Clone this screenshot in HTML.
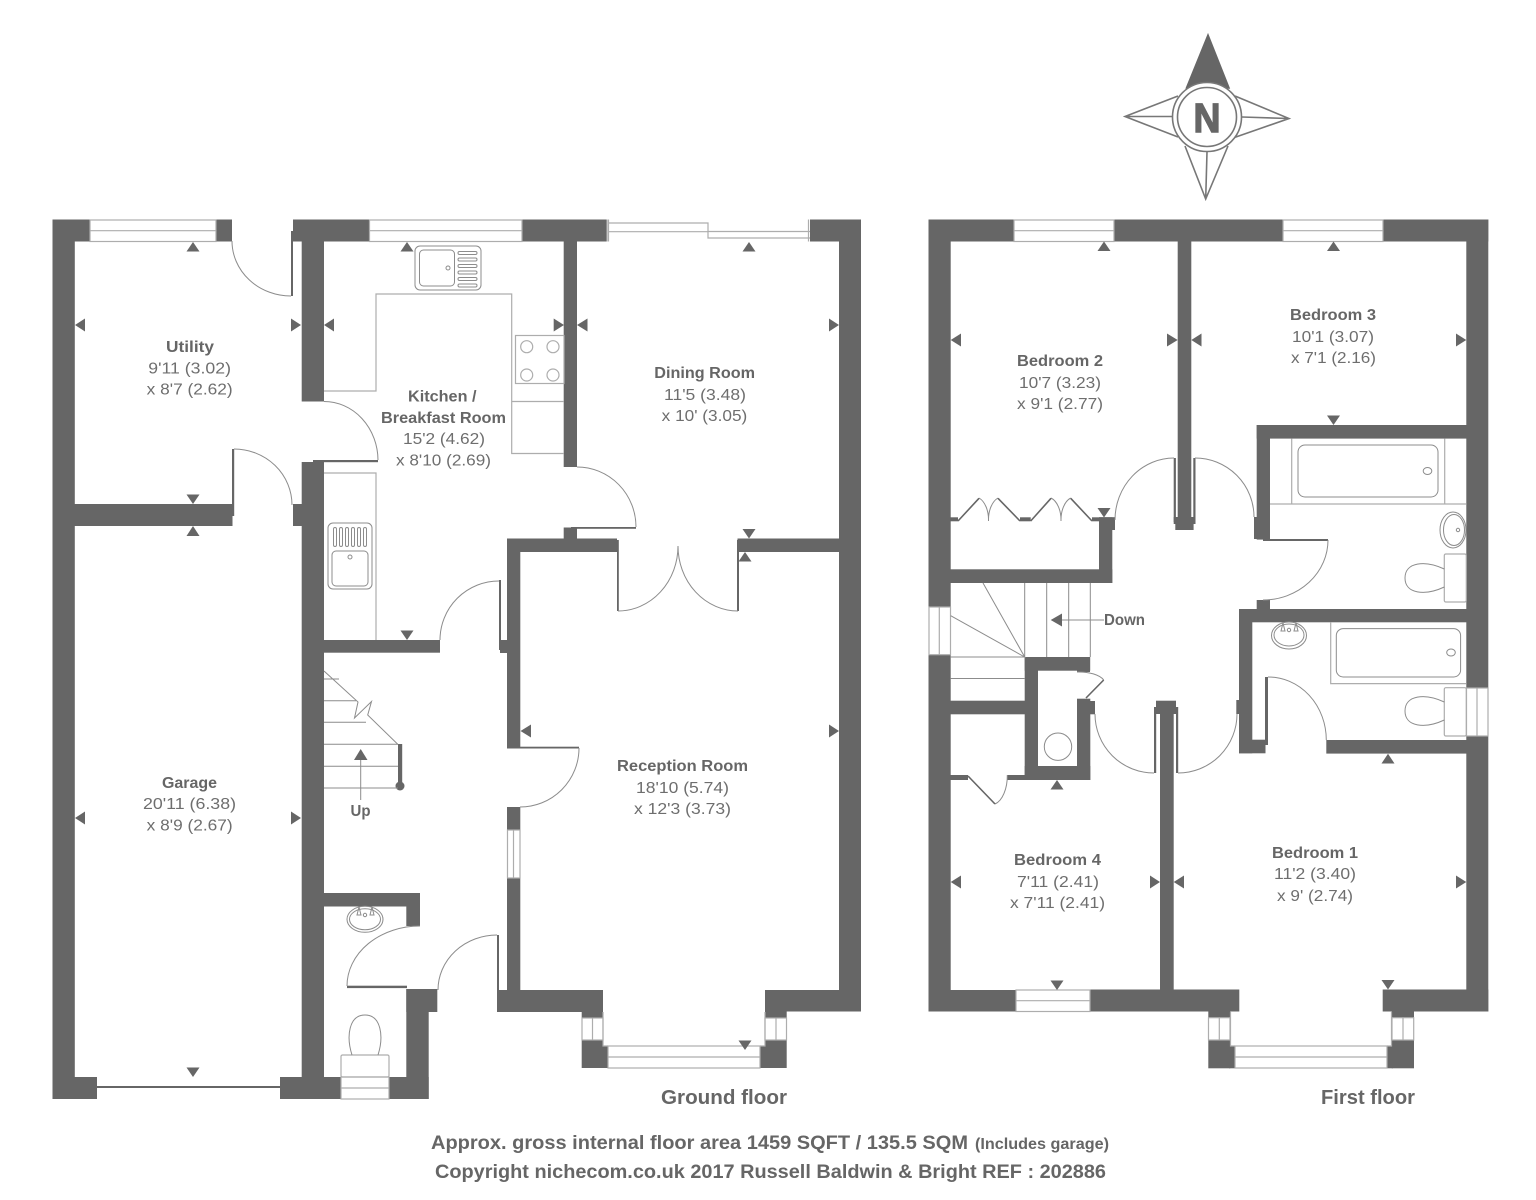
<!DOCTYPE html>
<html><head><meta charset="utf-8"><title>Floor plan</title>
<style>
html,body{margin:0;padding:0;background:#fff;width:1536px;height:1200px;overflow:hidden}
svg{display:block}
text{font-family:"Liberation Sans",sans-serif;fill:#6e6e6e;font-size:16px}
text.b{font-weight:bold;fill:#666}
.w rect{fill:#666}
.t polygon{fill:#666}
.l *{fill:none;stroke:#adadad;stroke-width:1.2}
.a *{fill:none;stroke:#8c8c8c;stroke-width:1}
.d *{fill:none;stroke:#666;stroke-width:1.6}
</style></head><body>
<svg xmlns="http://www.w3.org/2000/svg" width="1536" height="1200" viewBox="0 0 1536 1200">
<rect width="1536" height="1200" fill="#fff"/>

<!-- compass -->
<g fill="none" stroke="#777" stroke-width="1.6">
<polygon points="1208,35 1186.5,88 1229,88" fill="#666" stroke="#666"/>
<path d="M1178,96L1125,116.5L1178,137M1125,116.5H1172"/>
<path d="M1235,96L1289,118.5L1233,138M1289,118.5L1242,117"/>
<path d="M1185,146L1205.7,199L1228,146M1205.7,199L1207,152"/>
<circle cx="1207" cy="117" r="34.5" fill="#fff"/>
<circle cx="1207" cy="117" r="29.5"/>
</g>
<text class="b" x="1193.5" y="132" style="font-size:41px;stroke:#666;stroke-width:1.4" textLength="27" lengthAdjust="spacingAndGlyphs">N</text>

<!-- ground floor walls -->
<g class="w">
<rect x="52.5" y="219.5" width="22.3" height="879.5"/>
<rect x="52.5" y="219.5" width="37.5" height="22"/>
<rect x="216" y="219.5" width="16" height="22"/>
<rect x="293" y="219.5" width="76.5" height="22"/>
<rect x="291" y="231" width="2" height="65"/>
<rect x="301.7" y="219.5" width="22.3" height="182"/>
<rect x="301.7" y="462" width="22.3" height="637"/>
<rect x="313" y="460" width="65" height="2.2"/>
<rect x="74" y="504" width="158.5" height="22"/>
<rect x="232" y="449" width="2.2" height="67"/>
<rect x="293" y="504" width="9.5" height="22"/>
<rect x="323" y="640" width="117" height="12.7"/>
<rect x="522" y="219.5" width="84.7" height="22"/>
<rect x="563.7" y="241" width="13.3" height="226"/>
<rect x="563.7" y="527.5" width="13.3" height="12"/>
<rect x="571" y="527" width="65" height="1.8"/>
<rect x="507" y="538.5" width="110" height="13.5"/>
<rect x="617" y="540" width="1.8" height="71"/>
<rect x="737" y="540" width="2" height="71"/>
<rect x="737.5" y="538.5" width="103" height="13.5"/>
<rect x="810" y="219.5" width="51" height="22"/>
<rect x="839" y="219.5" width="22" height="792"/>
<rect x="507" y="538.5" width="13.3" height="209"/>
<rect x="499" y="580" width="2" height="70"/>
<rect x="500" y="640" width="8" height="13"/>
<rect x="507" y="746.7" width="72" height="1.8"/>
<rect x="507" y="807" width="13.3" height="23"/>
<rect x="507" y="878" width="13.3" height="113"/>
<rect x="497" y="935" width="2" height="64"/>
<rect x="497" y="990" width="106" height="22"/>
<rect x="581.7" y="1011" width="21.3" height="7"/>
<rect x="581.7" y="1040" width="21.3" height="28"/>
<rect x="602" y="1046" width="6" height="22"/>
<rect x="760" y="1046" width="6" height="22"/>
<rect x="765" y="1040" width="21.7" height="28"/>
<rect x="765" y="990" width="21.7" height="28"/>
<rect x="785" y="990" width="76" height="21.5"/>
<rect x="52.5" y="1077" width="44.5" height="22"/>
<rect x="97" y="1086" width="183" height="2"/>
<rect x="280" y="1077" width="61" height="22"/>
<rect x="389.3" y="1077" width="39.4" height="22"/>
<rect x="406.3" y="989" width="22.4" height="110"/>
<rect x="406.3" y="989" width="31" height="23"/>
<rect x="323" y="893" width="97" height="13.5"/>
<rect x="406.3" y="893" width="13.7" height="33"/>
<rect x="347" y="985.7" width="60" height="2.4"/>
<rect x="398" y="744" width="4.2" height="42"/>
</g>
<circle cx="400" cy="786" r="4.5" fill="#666"/>

<!-- first floor walls -->
<g class="w">
<rect x="928.5" y="219.5" width="22.2" height="387.5"/>
<rect x="928.5" y="654.7" width="22.2" height="356.8"/>
<rect x="928.5" y="219.5" width="85.5" height="22"/>
<rect x="1114" y="219.5" width="169" height="22"/>
<rect x="1383" y="219.5" width="105.3" height="22"/>
<rect x="1466.3" y="219.5" width="22" height="468.5"/>
<rect x="1466.3" y="736" width="22" height="275.5"/>
<rect x="1177.7" y="241" width="13.6" height="280"/>
<rect x="1173.7" y="458" width="2.2" height="64"/>
<rect x="1193.3" y="458" width="2.2" height="64"/>
<rect x="1173.7" y="517" width="21.8" height="7"/>
<rect x="1175.3" y="520" width="18.3" height="10"/>
<rect x="1256.7" y="425" width="210" height="13.6"/>
<rect x="1256.7" y="425" width="13.3" height="114.6"/>
<rect x="1254" y="517" width="3" height="22"/>
<rect x="1263" y="539" width="65" height="2"/>
<rect x="1256.7" y="600" width="13.3" height="10"/>
<rect x="1239" y="609" width="228" height="13.3"/>
<rect x="1239" y="609" width="13.3" height="144.3"/>
<rect x="1236.3" y="700" width="3" height="14"/>
<rect x="1239" y="739.7" width="26.5" height="13.6"/>
<rect x="1265" y="677" width="3" height="68"/>
<rect x="1326.3" y="740" width="140.5" height="13.6"/>
<rect x="950" y="517.3" width="8" height="4"/>
<rect x="1020" y="517.3" width="10.7" height="4"/>
<rect x="1092" y="517.3" width="23" height="4"/>
<rect x="1099" y="517.3" width="16" height="12.7"/>
<rect x="1099" y="517.3" width="13.3" height="65.7"/>
<rect x="950" y="569.3" width="162.3" height="13.7"/>
<rect x="1024.7" y="657" width="65.5" height="13.7"/>
<rect x="1077" y="657" width="13" height="15"/>
<rect x="1024.7" y="657" width="13.3" height="123"/>
<rect x="1077" y="698.7" width="13.3" height="81.3"/>
<rect x="1024.7" y="766" width="65.6" height="14"/>
<rect x="1090" y="701" width="5" height="13.3"/>
<rect x="950" y="700.7" width="75" height="13.6"/>
<rect x="950" y="775" width="18" height="5"/>
<rect x="1007" y="775" width="18" height="5"/>
<rect x="1160" y="706" width="13.7" height="285"/>
<rect x="1156" y="700.7" width="20" height="8"/>
<rect x="1154" y="707" width="2.2" height="66"/>
<rect x="1176" y="707" width="2.2" height="66"/>
<rect x="1154" y="707" width="24" height="7"/>
<rect x="928.5" y="990" width="87.5" height="21.5"/>
<rect x="1090" y="989.5" width="149.3" height="22"/>
<rect x="1208.3" y="1011" width="22" height="6.7"/>
<rect x="1208.3" y="1040" width="22" height="28.3"/>
<rect x="1229" y="1046" width="6" height="22.3"/>
<rect x="1387" y="1046" width="6" height="22.3"/>
<rect x="1391.7" y="1040" width="22.3" height="28.3"/>
<rect x="1391.7" y="1011" width="22.3" height="6.7"/>
<rect x="1382.7" y="989.5" width="105.6" height="22"/>
</g>

<!-- windows -->
<g class="l">
<rect x="90" y="220" width="126" height="21.5"/><path d="M90,230.7H216"/>
<rect x="369.5" y="220" width="152.5" height="21.5"/><path d="M369.5,230.7H522"/>
<path d="M607,219.5V241.5M608.5,219.5V241.5M608.5,223H708V238H810M608.5,231.7H708M708,231.5H810M808.5,219.5V241.5"/>
<rect x="507.5" y="830" width="12.5" height="48"/><path d="M513.5,830V878"/>
<rect x="582" y="1018" width="21" height="22"/><path d="M592.5,1018V1040"/>
<rect x="765" y="1018" width="21.5" height="22"/><path d="M776,1018V1040"/>
<rect x="608" y="1046" width="152" height="22"/><path d="M608,1057H760M603,1012V1046H608M765,1012V1046H760"/>
<rect x="341" y="1077" width="48" height="22"/><path d="M341,1088H389"/>
<rect x="1014" y="220" width="100" height="21.5"/><path d="M1014,230.7H1114"/>
<rect x="1283" y="220" width="100" height="21.5"/><path d="M1283,230.7H1383"/>
<rect x="929" y="607" width="21.5" height="47.7"/><path d="M939.3,607V654.7"/>
<rect x="1466.5" y="688" width="21.5" height="48"/><path d="M1477,688V736"/>
<rect x="1016" y="990" width="74" height="21.5"/><path d="M1016,1000.7H1090"/>
<rect x="1208.5" y="1017.7" width="21.5" height="22.3"/><path d="M1219.3,1017.7V1040"/>
<rect x="1392" y="1017.7" width="21.7" height="22.3"/><path d="M1403,1017.7V1040"/>
<rect x="1235" y="1046" width="152" height="22"/><path d="M1235,1057H1387M1230.5,1012V1046H1235M1391.5,1012V1046H1387"/>
<!-- kitchen fittings -->
<path d="M324,391H376V294H511.7V453.5H564M511.7,401.5H564"/>
<path d="M324,473H376V640"/>
<rect x="515.5" y="335.5" width="48.5" height="48"/>
<circle cx="526.7" cy="346.7" r="6"/><circle cx="553" cy="346.7" r="6"/>
<circle cx="526.7" cy="375" r="6"/><circle cx="553" cy="375" r="6"/>
<path d="M1270,504H1466M1291.7,438.6V504M1444.7,438.6V504M1330.7,622V683.6H1466"/>
<rect x="341" y="1055" width="48" height="22" rx="1.5"/>
<rect x="1444.3" y="554" width="22" height="48" rx="1.5"/>
<rect x="1444.3" y="687.7" width="22" height="48.3" rx="1.5"/>
</g>

<!-- fine fixtures -->
<g class="a">
<rect x="415" y="246" width="66" height="44" rx="5"/>
<rect x="419.5" y="250" width="35" height="36" rx="4"/>
<circle cx="448" cy="268" r="2"/>
<rect x="458" y="251.5" width="19" height="3" rx="1.5"/><rect x="458" y="258" width="19" height="3" rx="1.5"/>
<rect x="458" y="264.5" width="19" height="3" rx="1.5"/><rect x="458" y="271" width="19" height="3" rx="1.5"/>
<rect x="458" y="277.5" width="19" height="3" rx="1.5"/><rect x="458" y="284" width="19" height="3" rx="1.5"/>
<rect x="328" y="523" width="44" height="66" rx="5"/>
<rect x="332" y="551" width="36" height="35" rx="4"/>
<circle cx="350" cy="557" r="2"/>
<rect x="333.5" y="527.5" width="3" height="19" rx="1.5"/><rect x="339.5" y="527.5" width="3" height="19" rx="1.5"/>
<rect x="345.5" y="527.5" width="3" height="19" rx="1.5"/><rect x="351.5" y="527.5" width="3" height="19" rx="1.5"/>
<rect x="357.5" y="527.5" width="3" height="19" rx="1.5"/><rect x="363.5" y="527.5" width="3" height="19" rx="1.5"/>
<!-- stairs -->
<path d="M324,679H339M324,700.7H356M324,722.3H366M324,744.3H398M324,766.3H398M324,788H398"/>
<path d="M324,671L358,702L354.5,718L371.5,701.5L367.7,715L398,744.5"/>
<path d="M360.7,760V800"/>
<path d="M1024.7,583V657M1046.7,583V657M1068.7,583V657M1090.3,583V657M983,583L1024.7,657L950.7,615.7M950.7,657H1024.7M950.7,678.5H1024.7"/>
<path d="M1062,620H1104"/>
<circle cx="1058" cy="746.7" r="13.7"/>
<!-- WC -->
<ellipse cx="365" cy="919.3" rx="18" ry="13"/><ellipse cx="365" cy="919.3" rx="15.5" ry="10.5"/><circle cx="365" cy="915" r="1.7"/>
<path d="M359,907L361,915L357,915ZM372,907L370,915L374,915Z"/>
<path d="M352,1055C346,1036 349,1015 365,1015C381,1015 384,1036 378,1055"/>
<!-- bath 1 -->
<rect x="1298" y="445" width="140" height="52" rx="7"/>
<ellipse cx="1427.5" cy="471" rx="4.3" ry="3.5"/>
<ellipse cx="1453" cy="530" rx="13" ry="18"/><ellipse cx="1454" cy="530" rx="10.5" ry="15.5"/><circle cx="1458" cy="530" r="1.7"/>
<path d="M1444.3,569C1425,560 1405,562 1405,578C1405,594 1425,596 1444.3,587"/>
<!-- bath 2 -->
<rect x="1336.3" y="628.6" width="124.3" height="48.4" rx="7"/>
<ellipse cx="1451" cy="652.5" rx="4.3" ry="3.5"/>
<ellipse cx="1289" cy="635.5" rx="17.5" ry="13.5"/><ellipse cx="1289" cy="635" rx="15" ry="11"/><circle cx="1289" cy="630" r="1.7"/>
<path d="M1283,623L1285,631L1281,631ZM1296,623L1294,631L1298,631Z"/>
<path d="M1444.3,702C1425,693 1405,695 1405,711C1405,727 1425,729 1444.3,720"/>
<!-- door arcs ground -->
<path d="M232,241A59,55 0 0 0 291,296"/>
<path d="M324,401.5A54,59 0 0 1 378,460"/>
<path d="M234,449A58,56 0 0 1 292,505"/>
<path d="M577,467A59,60 0 0 1 636,527"/>
<path d="M618,611A60,65 0 0 0 678,546"/>
<path d="M738,611A60,65 0 0 1 678,546"/>
<path d="M440,640A59,59 0 0 1 499,581"/>
<path d="M579,748A59,59 0 0 1 520,807"/>
<path d="M497,935A59,55 0 0 0 438,990"/>
<path d="M420,926A73,60 0 0 0 347,986"/>
<!-- door arcs first -->
<path d="M1174,458A59,62 0 0 0 1115,520"/>
<path d="M1195,458A59,59 0 0 1 1254,517"/>
<path d="M1328,540A65,60 0 0 1 1263,600"/>
<path d="M1268,677A58,63 0 0 1 1326.3,740"/>
<path d="M1095,714A59,59 0 0 0 1154,773"/>
<path d="M1178,773A59,59 0 0 0 1237,714"/>
<path d="M1103.7,680A26,12 0 0 0 1077,672"/>
<path d="M995,804A16,29 0 0 0 1007.3,775"/>
<path d="M979,498A14,23 0 0 1 988.5,521A14,23 0 0 1 998,498"/>
<path d="M1051,498A14,23 0 0 1 1061,521A14,23 0 0 1 1070.7,498"/>
</g>
<g class="d">
<path d="M958,521L979,498.3M998,498.3L1020,521M1030.7,521L1051,498.3M1070.7,498.3L1092,521"/>
<path d="M1086,698L1103.7,680M968,776L995,804"/>
</g>

<!-- dimension triangles -->
<g class="t">
<polygon points="193,242 186.5,251.5 199.5,251.5"/>
<polygon points="75,325 85,318.5 85,331.5"/>
<polygon points="301,325 291,318.5 291,331.5"/>
<polygon points="324,325 334,318.5 334,331.5"/>
<polygon points="407,242 400.5,251.5 413.5,251.5"/>
<polygon points="193,504 186.5,494.5 199.5,494.5"/>
<polygon points="193,526 186.5,536 199.5,536"/>
<polygon points="407,640 400.5,630.5 413.5,630.5"/>
<polygon points="564,325 553.7,318.5 553.7,331.5"/>
<polygon points="577,325 587.5,318.5 587.5,331.5"/>
<polygon points="839,325 829,318.5 829,331.5"/>
<polygon points="749,242 742.5,251.5 755.5,251.5"/>
<polygon points="749,538.5 742.5,529 755.5,529"/>
<polygon points="745,552 738.5,561.5 751.5,561.5"/>
<polygon points="520.5,731 531,724.5 531,737.5"/>
<polygon points="839,731 829,724.5 829,737.5"/>
<polygon points="745,1050 738.5,1040.5 751.5,1040.5"/>
<polygon points="75,818 85,811.5 85,824.5"/>
<polygon points="301,818 291,811.5 291,824.5"/>
<polygon points="193,1077 186.5,1067.5 199.5,1067.5"/>
<polygon points="360.7,749 354,760 367.5,760"/>
<polygon points="950.7,340 961,333.5 961,346.5"/>
<polygon points="1177.7,340 1167,333.5 1167,346.5"/>
<polygon points="1104,241.5 1097.5,251 1110.5,251"/>
<polygon points="1104,517.5 1097.5,508 1110.5,508"/>
<polygon points="1191.3,340 1201.5,333.5 1201.5,346.5"/>
<polygon points="1466.3,340 1456,333.5 1456,346.5"/>
<polygon points="1333.5,241.5 1327,251 1340,251"/>
<polygon points="1333.5,425 1327,415.5 1340,415.5"/>
<polygon points="1057,780 1050.5,789.5 1063.5,789.5"/>
<polygon points="950.7,882 961,875.5 961,888.5"/>
<polygon points="1160,882 1150,875.5 1150,888.5"/>
<polygon points="1057,990 1050.5,980.5 1063.5,980.5"/>
<polygon points="1388,753.7 1381.5,763.5 1394.5,763.5"/>
<polygon points="1173.7,882 1184,875.5 1184,888.5"/>
<polygon points="1466.3,882 1456,875.5 1456,888.5"/>
<polygon points="1388,989.5 1381.5,980 1394.5,980"/>
<polygon points="1050.7,620 1062,613.5 1062,626.5"/>
</g>

<!-- labels -->
<g>
<text class="b" x="166" y="352" textLength="48" lengthAdjust="spacingAndGlyphs">Utility</text>
<text x="148.3" y="373.3" textLength="82.7" lengthAdjust="spacingAndGlyphs">9'11 (3.02)</text>
<text x="146.7" y="394.5" textLength="86" lengthAdjust="spacingAndGlyphs">x 8'7 (2.62)</text>

<text class="b" x="162" y="788" textLength="55" lengthAdjust="spacingAndGlyphs">Garage</text>
<text x="143" y="809" textLength="93" lengthAdjust="spacingAndGlyphs">20'11 (6.38)</text>
<text x="146.7" y="830.5" textLength="86" lengthAdjust="spacingAndGlyphs">x 8'9 (2.67)</text>

<text class="b" x="408" y="401.5" textLength="68.5" lengthAdjust="spacingAndGlyphs">Kitchen /</text>
<text class="b" x="381" y="423" textLength="125" lengthAdjust="spacingAndGlyphs">Breakfast Room</text>
<text x="403" y="444" textLength="82" lengthAdjust="spacingAndGlyphs">15'2 (4.62)</text>
<text x="396" y="465.5" textLength="95" lengthAdjust="spacingAndGlyphs">x 8'10 (2.69)</text>

<text class="b" x="654.3" y="378" textLength="100.7" lengthAdjust="spacingAndGlyphs">Dining Room</text>
<text x="664" y="400" textLength="82" lengthAdjust="spacingAndGlyphs">11'5 (3.48)</text>
<text x="661.7" y="421" textLength="85.6" lengthAdjust="spacingAndGlyphs">x 10' (3.05)</text>

<text class="b" x="617" y="771" textLength="131" lengthAdjust="spacingAndGlyphs">Reception Room</text>
<text x="636" y="793" textLength="93" lengthAdjust="spacingAndGlyphs">18'10 (5.74)</text>
<text x="634" y="814" textLength="97" lengthAdjust="spacingAndGlyphs">x 12'3 (3.73)</text>

<text class="b" x="350.5" y="816" textLength="20" lengthAdjust="spacingAndGlyphs">Up</text>
<text class="b" x="1104" y="625" textLength="41" lengthAdjust="spacingAndGlyphs">Down</text>

<text class="b" x="1017" y="366" textLength="86" lengthAdjust="spacingAndGlyphs">Bedroom 2</text>
<text x="1019" y="388" textLength="82" lengthAdjust="spacingAndGlyphs">10'7 (3.23)</text>
<text x="1017" y="409" textLength="86" lengthAdjust="spacingAndGlyphs">x 9'1 (2.77)</text>

<text class="b" x="1290" y="320" textLength="86" lengthAdjust="spacingAndGlyphs">Bedroom 3</text>
<text x="1292" y="342" textLength="82" lengthAdjust="spacingAndGlyphs">10'1 (3.07)</text>
<text x="1291" y="363" textLength="85" lengthAdjust="spacingAndGlyphs">x 7'1 (2.16)</text>

<text class="b" x="1014" y="865" textLength="87" lengthAdjust="spacingAndGlyphs">Bedroom 4</text>
<text x="1017" y="887" textLength="82" lengthAdjust="spacingAndGlyphs">7'11 (2.41)</text>
<text x="1010" y="908" textLength="95" lengthAdjust="spacingAndGlyphs">x 7'11 (2.41)</text>

<text class="b" x="1272" y="858" textLength="86" lengthAdjust="spacingAndGlyphs">Bedroom 1</text>
<text x="1274" y="879" textLength="82" lengthAdjust="spacingAndGlyphs">11'2 (3.40)</text>
<text x="1277" y="901" textLength="76" lengthAdjust="spacingAndGlyphs">x 9' (2.74)</text>

<text class="b" x="661" y="1104" style="font-size:20px" textLength="126" lengthAdjust="spacingAndGlyphs">Ground floor</text>
<text class="b" x="1321" y="1104" style="font-size:20px" textLength="94" lengthAdjust="spacingAndGlyphs">First floor</text>
<text class="b" x="431" y="1149" style="font-size:19px" textLength="537" lengthAdjust="spacingAndGlyphs">Approx. gross internal floor area 1459 SQFT / 135.5 SQM</text>
<text class="b" x="975" y="1149" style="font-size:16px" textLength="134" lengthAdjust="spacingAndGlyphs">(Includes garage)</text>
<text class="b" x="435" y="1178" style="font-size:19px" textLength="671" lengthAdjust="spacingAndGlyphs">Copyright nichecom.co.uk 2017 Russell Baldwin &amp; Bright REF : 202886</text>
</g>
</svg>
</body></html>
